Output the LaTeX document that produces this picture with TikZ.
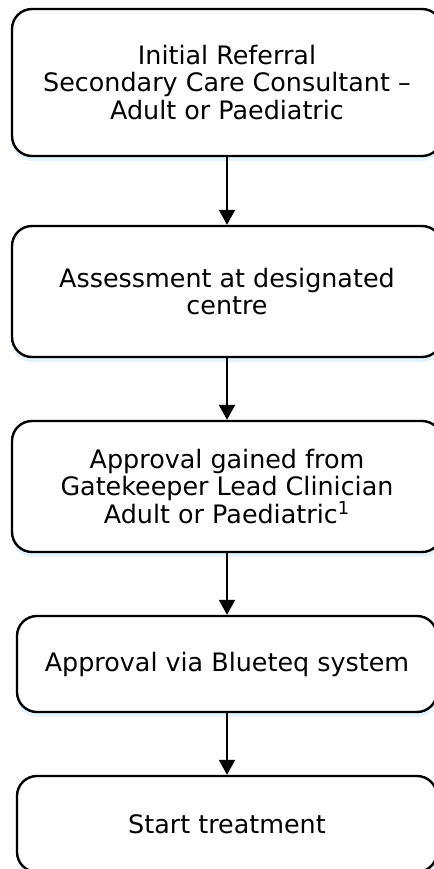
\documentclass[tikz,border=0pt]{standalone}
\usepackage{fontspec}
\setmainfont{DejaVu Sans}
\usetikzlibrary{arrows.meta,shadows}
\begin{document}
\begin{tikzpicture}[x=0.5pt,y=-0.5pt,
  stepbox/.style={draw=black,line width=1.2pt,rounded corners=10pt,fill=white,
    minimum width=215pt,align=center,font=\fontsize{12.7}{13.6}\selectfont,
    drop shadow={fill=blue!40!cyan!15,opacity=0.7,shadow xshift=0pt,shadow yshift=-2.5pt}},
  flow/.style={-{Triangle[length=7.5pt,width=8pt]},line width=1.1pt}]
\def\cx{227};
\useasboundingbox (0,0) rectangle (434,869);
\node[stepbox,minimum height=73.5pt] (referral) at (\cx,82.5) {Initial Referral\\Secondary Care Consultant --\\Adult or Paediatric};
\node[stepbox,minimum height=65.5pt] (assess) at (\cx,291.5) {Assessment at designated\\centre};
\node[stepbox,minimum height=65.5pt] (gatekeeper) at (\cx,486.5) {Approval gained from\\Gatekeeper Lead Clinician\\Adult or Paediatric\textsuperscript{1}};
\node[stepbox,minimum width=210pt,minimum height=48pt] (blueteq) at (\cx,664) {Approval via Blueteq system};
\node[stepbox,minimum width=210pt,minimum height=48pt] (start) at (\cx,824) {Start treatment};

\draw[flow] (referral) -- (assess);
\draw[flow] (assess) -- (gatekeeper);
\draw[flow] (gatekeeper) -- (blueteq);
\draw[flow] (blueteq) -- (start);
\end{tikzpicture}
\end{document}
